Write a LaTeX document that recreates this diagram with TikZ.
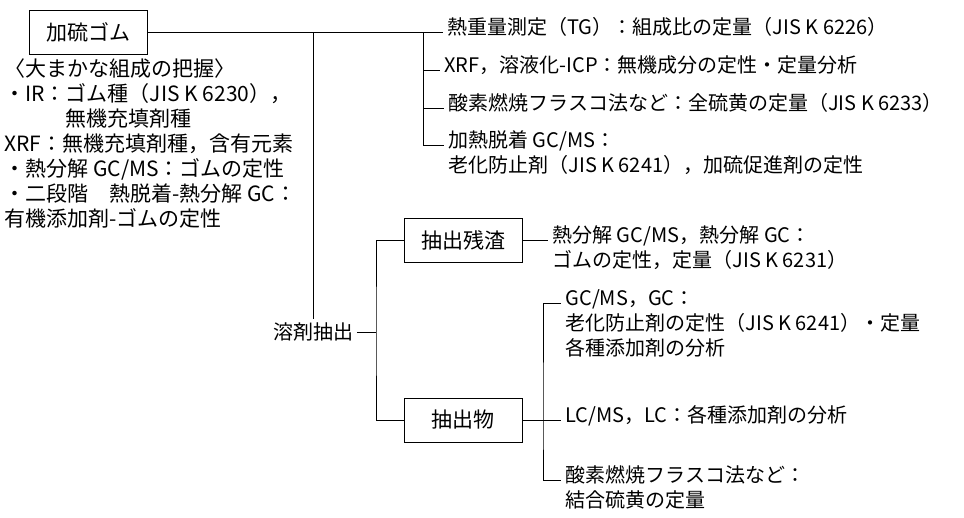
\documentclass[tikz,border=0pt]{standalone}
\usepackage{fontspec}
\setmainfont{Noto Sans CJK JP}

\begin{document}
\begin{tikzpicture}[x=1pt, y=-1pt, line width=1pt,
    txt/.style={font=\fontsize{20}{25}\selectfont},
    box/.style={draw, minimum width=118pt, minimum height=44pt, font=\fontsize{21}{25}\selectfont},
    item/.style={txt, anchor=mid west, align=left, inner xsep=4pt, inner ysep=0pt}]
    \useasboundingbox (0, 0) rectangle (964, 517);
    % multi-line items are placed by their last line
    \node[box] (rubber) at (88, 32) {加硫ゴム};
    \node[item, font=\fontsize{21}{25}\selectfont] (note) at (0, 224) {〈大まかな組成の把握〉\\
        ・IR：ゴム種（JIS K 6230），\\
        \phantom{・IR：}無機充填剤種\\
        XRF：無機充填剤種，含有元素\\
        ・熱分解 GC/MS：ゴムの定性\\
        ・二段階　熱脱着-熱分解 GC：\\
        有機添加剤-ゴムの定性};
    \node[item] (tg) at (443, 32) {熱重量測定（TG）：組成比の定量（JIS K 6226）};
    \node[item] (xrf) at (440, 70) {XRF，溶液化-ICP：無機成分の定性・定量分析};
    \node[item] (oxy) at (444, 108) {酸素燃焼フラスコ法など：全硫黄の定量（JIS K 6233）};
    \node[item] (dsorb) at (444, 170) {加熱脱着 GC/MS：\\老化防止剤（JIS K 6241），加硫促進剤の定性};
    \coordinate (main) at (313, 32);
    \coordinate (top) at (423, 32);
    \draw (rubber.east) -- (tg.mid west);
    \draw (top) |- (xrf.mid west);
    \draw (top) |- (oxy.mid west);
    \draw (top) |- ([yshift=25pt]dsorb.mid west);
    % solvent extraction
    \node[txt] (solvent) at (313, 332) {溶剤抽出};
    \coordinate (split) at (376, 332);
    \draw (main) -- (solvent);
    \draw (solvent) -- (split);
    \node[box] (res) at (463, 240) {抽出残渣};
    \node[box] (ext) at (463, 420) {抽出物};
    \draw (res) -| (split) |- (ext);
    \node[item] (pyro) at (548, 265) {熱分解 GC/MS，熱分解 GC：\\ゴムの定性，定量（JIS K 6231）};
    \draw (res) -- ([yshift=25pt]pyro.mid west);
    \coordinate (fork) at (543, 420);
    \node[item] (gc) at (561, 353) {GC/MS，GC：\\老化防止剤の定性（JIS K 6241）・定量\\各種添加剤の分析};
    \node[item] (lc) at (561, 420) {LC/MS，LC：各種添加剤の分析};
    \node[item] (bound) at (561, 505) {酸素燃焼フラスコ法など：\\結合硫黄の定量};
    \draw (ext) -- (lc.mid west);
    \draw ([yshift=50pt]gc.mid west) -| (fork) |- ([yshift=25pt]bound.mid west);
\end{tikzpicture}
\end{document}
